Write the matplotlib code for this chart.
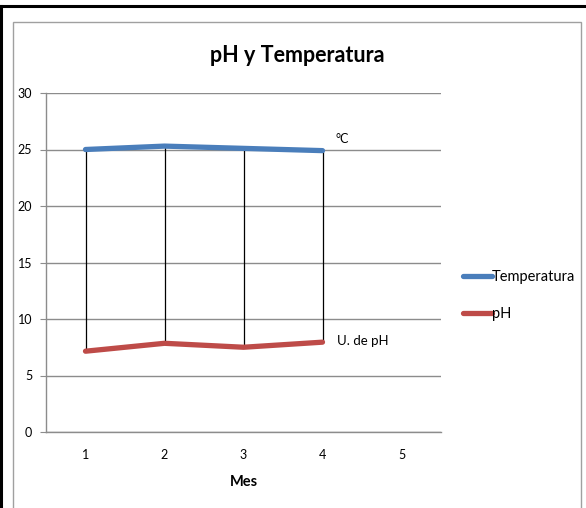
import matplotlib.pyplot as plt
from matplotlib.patches import Rectangle
from matplotlib.lines import Line2D

plt.rcParams['font.family'] = ['Lato', 'DejaVu Sans']

mes = [1, 2, 3, 4]
temperatura = [25.0, 25.3, 25.1, 24.9]
ph = [7.15, 7.85, 7.5, 7.95]

BLUE = '#4A7EBB'
RED = '#BE4B48'
GRID = '#8c8c8c'

fig = plt.figure(figsize=(5.86, 5.08), dpi=100)

# outer frame like the screenshot
fig.add_artist(Line2D([0, 1], [1 - 6/508, 1 - 6/508], color='black', lw=2.2))
fig.add_artist(Line2D([1/586, 1/586], [0, 1 - 6/508], color='black', lw=2.2))
fig.add_artist(Rectangle((13/586, -0.05), (581 - 13)/586, 1 - 22/508 + 0.05,
                         fill=False, edgecolor='#a0a0a0', lw=1.0))

ax = fig.add_axes([46/586, 1 - 432/508, (441 - 46)/586, (432 - 93)/508])

# high-low lines
ax.vlines(mes, ph, temperatura, color='black', lw=0.9, zorder=2)
ax.plot(mes, temperatura, color=BLUE, lw=3.8, solid_capstyle='round', label='Temperatura', zorder=3)
ax.plot(mes, ph, color=RED, lw=3.8, solid_capstyle='round', label='pH', zorder=3)

ax.text(mes[-1] + 0.16, temperatura[-1] + 0.5, '°C', fontsize=9, ha='left', va='bottom')
ax.text(mes[-1] + 0.18, ph[-1] + 0.1, 'U. de pH', fontsize=9.5, ha='left', va='center')

ax.set_xlim(0.5, 5.5)
ax.set_ylim(0, 30)
ax.set_yticks(range(0, 31, 5))
ax.set_xticks([1, 2, 3, 4, 5])
ax.yaxis.grid(True, color=GRID, lw=1.0)
ax.set_axisbelow(True)
for s in ['top', 'right']:
    ax.spines[s].set_visible(False)
for s in ['left', 'bottom']:
    ax.spines[s].set_color(GRID)
    ax.spines[s].set_linewidth(1.0)
ax.tick_params(axis='y', length=4, color=GRID, labelsize=9, pad=6)
ax.tick_params(axis='x', length=0, labelsize=9, pad=12)
ax.set_xlabel('Mes', fontsize=10.5, fontweight='bold', labelpad=10)

fig.text(297/586, 1 - 55/508, 'pH y Temperatura', fontsize=15.5, fontweight='bold',
         ha='center', va='center')

leg = fig.legend(loc='upper left', bbox_to_anchor=(457/586, 1 - 264/508), frameon=False,
                 fontsize=10.5, handlelength=2.0, handletextpad=0.0, labelspacing=1.6,
                 borderaxespad=0)

fig.savefig('out.png', dpi=100)
